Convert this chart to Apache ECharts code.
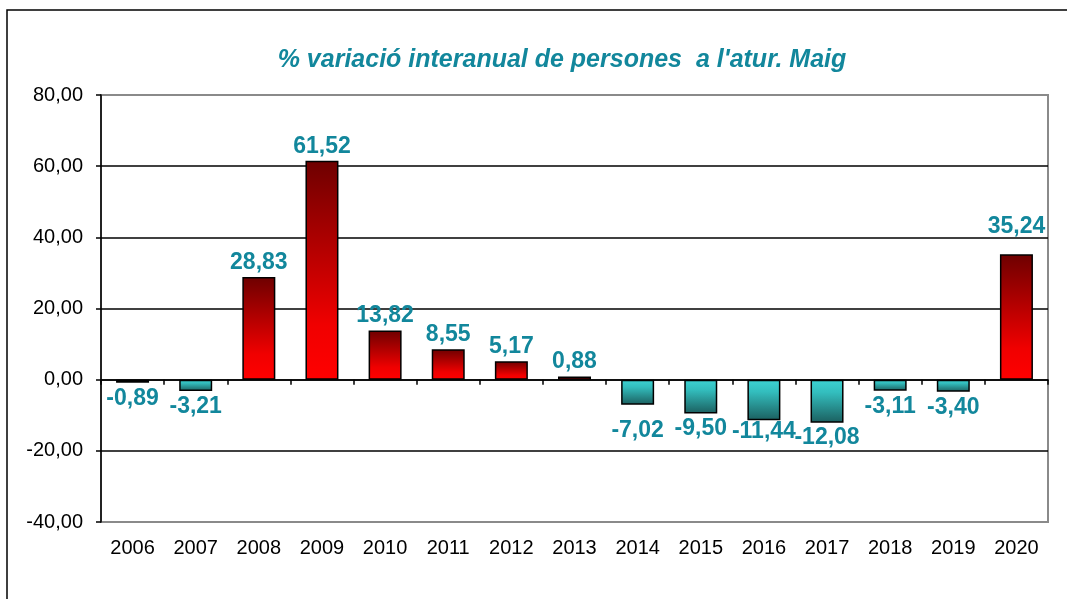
<!DOCTYPE html>
<html>
<head>
<meta charset="utf-8">
<script src="https://cdn.jsdelivr.net/npm/echarts@6/dist/echarts.min.js"></script>
<style>
    html, body { margin: 0; padding: 0; background: #fff; }
    #main { width: 1067px; height: 599px; }
</style>
</head>
<body>
<div id="main"></div>
<script>
    // dades: % variació interanual de persones a l'atur (maig)
    var years = ['2006', '2007', '2008', '2009', '2010', '2011', '2012', '2013',
                 '2014', '2015', '2016', '2017', '2018', '2019', '2020'];
    var variacio = [-0.89, -3.21, 28.83, 61.52, 13.82, 8.55, 5.17, 0.88,
                    -7.02, -9.50, -11.44, -12.08, -3.11, -3.40, 35.24];
    var yTicks = [-40, -20, 0, 20, 40, 60, 80];

    var font = 'Liberation Sans, Arial, sans-serif';
    var labelColor = '#12879c';

    // etiquetes que l'original té desplaçades a mà
    var labelShift = {2014: [0, 11], 2016: [0, -4], 2020: [0, -13]};

    function coma(v) {
        return v.toFixed(2).replace('.', ',');
    }

    var redGrad = new echarts.graphic.LinearGradient(0, 0, 0, 1, [
        {offset: 0, color: '#6e0000'},
        {offset: 0.75, color: '#f00000'},
        {offset: 1, color: '#ff0000'}
    ]);
    var tealGrad = new echarts.graphic.LinearGradient(0, 0, 0, 1, [
        {offset: 0, color: '#3dd3d3'},
        {offset: 0.3, color: '#33bdbd'},
        {offset: 1, color: '#1b5f5f'}
    ]);

    var barData = variacio.map(function (v, i) {
        var neg = v < 0;
        var item = {
            value: v,
            itemStyle: {color: neg ? tealGrad : redGrad},
            label: {position: neg ? 'bottom' : 'top', distance: neg ? 4 : 3}
        };
        if (labelShift[years[i]]) {
            item.label.offset = labelShift[years[i]];
        }
        return item;
    });

    var myChart = echarts.init(document.getElementById('main'));
    var option = {
        animation: false,
        title: {
            text: "% variació interanual de persones  a l'atur. Maig",
            left: 557,
            textAlign: 'center',
            top: 43,
            textStyle: {
                color: labelColor,
                fontFamily: font,
                fontStyle: 'italic',
                fontWeight: 'bold',
                fontSize: 25
            }
        },
        graphic: [{
            type: 'rect',
            shape: {x: 7, y: 10, width: 1100, height: 700},
            style: {fill: null, stroke: '#000', lineWidth: 1.5},
            silent: true
        }],
        grid: {
            left: 101,
            right: 19,
            top: 95,
            bottom: 77,
            show: true,
            borderColor: '#8a8a8a',
            borderWidth: 2
        },
        xAxis: [{
            type: 'category',
            data: years,
            axisLine: {show: false, onZero: false},
            axisTick: {show: false},
            axisLabel: {
                color: '#000',
                fontFamily: font,
                fontSize: 20,
                margin: 16
            }
        }, {
            type: 'category',
            data: years,
            position: 'bottom',
            axisLine: {onZero: true, lineStyle: {color: '#000', width: 1.5}},
            axisTick: {show: true, length: 5, lineStyle: {color: '#000', width: 1.5}},
            axisLabel: {show: false}
        }],
        yAxis: {
            type: 'value',
            min: yTicks[0],
            max: yTicks[yTicks.length - 1],
            interval: 20,
            axisLine: {show: true, lineStyle: {color: '#000', width: 1.5}},
            axisTick: {show: true, length: 5, lineStyle: {color: '#000', width: 1.5}},
            axisLabel: {
                color: '#000',
                fontFamily: font,
                fontSize: 20,
                margin: 18,
                formatter: function (v) { return coma(v); }
            },
            splitLine: {
                show: true,
                lineStyle: {
                    color: ['#8a8a8a', '#000', '#000', '#000', '#000', '#000', '#8a8a8a'],
                    width: 1.5
                }
            }
        },
        series: [{
            type: 'bar',
            xAxisIndex: 0,
            barWidth: 33,
            data: barData,
            itemStyle: {borderColor: '#000', borderWidth: 1.5},
            label: {
                show: true,
                color: labelColor,
                fontFamily: font,
                fontWeight: 'bold',
                fontSize: 23,
                formatter: function (p) { return coma(p.value); }
            }
        }]
    };
    myChart.setOption(option);
</script>
</body>
</html>
